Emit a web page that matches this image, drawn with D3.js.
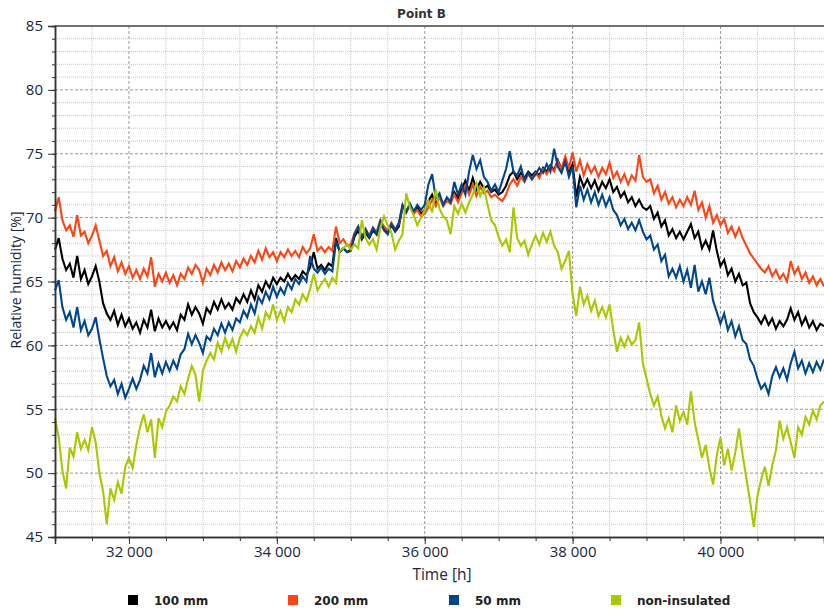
<!DOCTYPE html>
<html>
<head>
<meta charset="utf-8">
<script src="https://cdn.jsdelivr.net/npm/d3@7"></script>
<style>
  html, body { margin: 0; padding: 0; background: #fff; }
  svg { display: block; }
</style>
</head>
<body>
<svg id="chart" width="824" height="612"></svg>
<script>
// Relative humidity at point B, sampled every 50 h from 31 000 h to 41 400 h
const startHour = 31000;
const stepHours = 50;

const rh100mm = [
  67.5, 68.4, 66.8, 65.9, 66.4, 65.3, 67.0, 65.2, 65.9, 64.8,
  65.4, 66.2, 65.0, 63.3, 62.5, 62.0, 62.7, 61.6, 62.4, 61.5,
  62.1, 61.3, 61.8, 61.0, 62.0, 61.4, 62.8, 61.1, 62.1, 61.4,
  61.9, 61.3, 61.8, 61.2, 62.4, 62.0, 63.2, 62.4, 63.0, 62.5,
  61.7, 62.9, 62.5, 63.4, 62.8, 63.6, 62.9, 63.3, 62.8, 63.7,
  63.3, 64.0, 63.4, 64.3, 63.6, 64.7, 64.2, 65.0, 64.5, 65.3,
  64.8, 65.3, 65.0, 65.6, 65.1, 65.5, 65.2, 65.8, 65.5, 66.1,
  67.3, 66.0, 66.3, 65.9, 66.4, 66.2, 68.4, 67.3, 67.6, 67.3,
  67.5, 68.5, 69.0, 68.3, 68.8, 68.4, 69.0, 68.7, 69.5, 69.1,
  68.8, 69.4, 68.9, 69.3, 70.8, 70.5, 71.0, 70.4, 70.8, 70.3,
  70.6, 71.3, 71.8, 71.0, 71.7, 71.0, 71.5, 71.3, 72.0, 71.5,
  72.2, 72.9, 72.1, 73.1, 72.2, 72.8, 72.3, 72.5, 72.0, 72.2,
  71.8, 72.0, 72.5, 73.3, 73.6, 73.0, 73.5, 73.1, 73.6, 73.3,
  73.6, 73.3, 73.9, 73.6, 74.1, 73.7, 74.5, 73.8, 74.6, 73.6,
  74.2, 71.6, 73.2, 72.4, 73.0, 72.3, 72.9, 72.1, 72.8, 72.3,
  73.0, 72.0, 72.4, 71.6, 72.0, 71.2, 71.6, 70.9, 71.4, 70.8,
  70.6, 70.9, 69.9, 70.4, 69.3, 69.8, 68.6, 69.1, 68.4, 68.9,
  68.3, 68.9, 69.5, 68.4, 68.9, 67.6, 68.2, 67.5, 69.0, 67.4,
  66.2, 66.7, 65.5, 66.0, 65.0, 65.6, 64.7, 64.9, 63.3, 62.6,
  62.2, 61.7, 62.3, 61.6, 62.1, 61.3, 61.9, 61.5, 62.0, 62.9,
  62.0, 62.6, 61.6, 62.2, 61.4, 61.9, 61.2, 61.7, 61.5
];

const rh200mm = [
  70.5, 71.6, 69.8, 69.0, 69.4, 68.5, 70.2, 68.6, 68.9, 68.0,
  68.6, 69.4, 68.2, 67.0, 67.4, 66.2, 66.9, 65.8, 66.5, 65.6,
  66.2, 65.3, 65.9, 65.2, 66.0, 65.4, 66.9, 64.6, 65.6, 65.0,
  65.7, 64.9, 65.5, 64.7, 65.6, 65.2, 66.1, 65.6, 66.3, 65.9,
  64.9, 66.0, 65.5, 66.3, 65.7, 66.5, 65.9, 66.4, 65.8, 66.6,
  66.1, 66.8, 66.3, 67.0, 66.5, 67.4, 66.7, 67.6, 66.9, 67.3,
  66.6, 67.3, 66.9, 67.5, 67.0, 67.4, 66.9, 67.7, 67.2, 67.6,
  68.7, 67.4, 67.7, 67.3, 67.7, 67.4, 69.3, 68.0, 68.3, 67.8,
  67.9, 68.8, 69.3, 68.5, 69.1, 68.6, 69.2, 68.9, 69.8, 69.3,
  69.0, 69.6, 69.1, 69.5, 70.9, 70.4, 71.0, 70.3, 70.6, 70.1,
  70.3, 70.8, 71.4, 70.9, 71.6, 70.9, 71.3, 71.1, 71.8, 71.2,
  71.9, 72.5, 71.8, 72.6, 71.7, 72.4, 71.9, 72.1, 71.6, 71.8,
  71.5, 71.3, 71.8, 72.6, 73.0, 72.5, 73.2, 72.8, 73.4, 73.0,
  73.5, 73.1, 73.8, 73.4, 74.0, 73.6, 74.4, 73.8, 74.8, 73.9,
  75.1, 73.6, 74.5, 73.3, 74.2, 73.5, 74.0, 73.2, 73.9, 73.4,
  74.3, 73.1, 73.6, 72.8, 73.4, 72.6, 73.3, 72.9, 74.9, 73.2,
  72.8, 73.0, 71.9, 72.5, 71.4, 72.0, 71.1, 71.6, 70.8, 71.4,
  70.9, 71.6, 71.0, 72.1, 70.6, 71.2, 70.0, 70.9, 69.6, 70.2,
  69.4, 69.9, 68.8, 69.3, 68.5, 69.2, 68.4, 67.8, 67.2, 66.8,
  66.4, 66.0, 65.7, 66.2, 65.4, 65.9, 65.2, 65.6, 65.0, 66.6,
  65.6, 66.1, 65.2, 65.7, 64.9, 65.4, 64.7, 65.2, 64.6
];

const rh50mm = [
  64.3, 65.1, 63.0, 62.0, 62.6, 61.4, 63.0, 61.2, 61.9, 60.8,
  61.3, 62.2, 60.5, 59.0, 57.6, 56.8, 57.3, 56.2, 57.0, 55.9,
  56.6, 57.4, 56.6, 57.3, 58.4, 57.8, 59.4, 57.5, 58.6, 57.8,
  58.7, 58.0, 58.8, 58.2, 59.3, 59.7, 60.9, 60.1, 60.8, 60.2,
  59.4, 60.7, 60.4, 61.3, 60.8, 61.7, 61.0, 61.8, 61.2, 62.1,
  61.8, 62.7, 62.2, 63.2, 62.5, 63.8, 63.3, 64.2, 63.6, 64.6,
  63.8, 64.5, 64.0, 64.9, 64.4, 65.2, 64.8, 65.4, 65.0, 67.0,
  66.0, 65.7, 66.1, 65.6, 66.0, 65.8, 68.1, 67.4, 67.6, 67.3,
  67.4, 68.7, 69.3, 68.4, 69.1, 68.5, 69.2, 68.7, 69.7, 69.0,
  68.7, 69.5, 69.0, 69.6, 71.0, 70.4, 71.1, 70.5, 71.0, 70.6,
  71.0, 72.6, 73.4, 71.5, 71.9, 71.0, 71.6, 71.2, 72.8, 71.8,
  72.6, 71.8, 73.6, 74.9, 73.8, 74.5, 73.2, 72.8, 72.1, 72.6,
  72.0, 72.9, 73.8, 75.2, 73.6, 73.3, 74.0, 72.9, 73.5, 73.0,
  73.4, 73.9, 73.5, 74.2, 73.6, 75.4, 74.0, 73.5, 74.4, 73.2,
  74.0, 70.8, 72.5, 71.4, 72.2, 71.2, 72.0, 71.0, 71.8, 70.9,
  71.6, 70.6, 70.2, 69.4, 69.9, 69.1, 69.6, 69.0, 69.8, 68.9,
  68.3, 68.6, 67.5, 67.9, 66.6, 67.1, 65.4, 66.0, 65.3, 66.2,
  65.0, 65.9, 64.5, 66.3, 64.2, 65.0, 64.0, 65.3, 63.5, 62.6,
  61.7, 62.5, 61.2, 61.9, 60.7, 61.5, 60.4, 60.1, 58.9, 58.4,
  57.4, 56.6, 57.0, 56.2, 57.6, 58.3, 57.5, 58.2, 57.3, 58.6,
  59.5, 58.2, 58.8, 57.8, 58.6, 57.9, 58.7, 58.1, 58.9
];

const rhNonInsulated = [
  54.3, 52.8, 50.2, 48.8, 52.0, 51.3, 53.2, 51.9, 52.6, 51.8,
  53.6, 52.4, 50.0, 48.6, 46.0, 48.8, 47.9, 49.3, 48.4, 50.5,
  51.2, 50.4, 52.2, 53.6, 54.6, 53.2, 54.2, 51.2, 54.3, 53.6,
  54.8, 55.3, 56.0, 55.6, 56.8, 56.2, 57.4, 58.4, 57.7, 55.6,
  58.0, 58.8, 59.4, 58.9, 60.2, 59.5, 60.6, 59.8, 60.5, 59.5,
  60.6, 61.2, 60.8, 61.5, 61.0, 62.2, 61.3, 62.6, 62.1, 63.2,
  62.0, 62.7, 61.9, 63.0, 62.6, 63.6, 63.2, 64.0, 63.5, 64.4,
  65.6, 64.3, 64.8, 65.2, 64.6, 65.3, 64.9, 67.4, 67.6, 67.9,
  67.5, 67.9, 67.6, 69.8, 68.4, 67.9, 68.3, 67.5, 69.2, 70.1,
  69.4, 68.8, 67.5, 68.2, 68.7, 71.9, 70.8, 70.2, 69.4, 70.0,
  70.6, 71.3, 70.4, 72.2, 70.7, 70.1, 69.8, 68.7, 70.9, 70.3,
  71.1, 70.4, 71.2, 71.8, 72.7, 71.7, 72.4, 71.0, 69.8, 69.4,
  68.5, 67.8, 68.3, 67.3, 70.8, 68.4, 67.8, 68.2, 67.1, 67.9,
  68.6, 67.9, 68.8, 68.1, 68.9, 67.8, 67.3, 66.0, 66.6, 67.4,
  64.0, 62.3, 64.6, 63.2, 63.9, 62.7, 63.5, 62.3, 63.0, 62.2,
  63.2, 61.2, 59.5, 60.6, 59.9, 60.7, 60.1, 60.4, 61.8, 58.6,
  57.4, 56.2, 55.3, 56.0, 54.5, 53.5, 54.3, 53.2, 55.3, 54.1,
  54.8, 53.8, 56.4, 54.0, 52.6, 51.2, 52.2, 50.4, 49.1, 51.4,
  52.8, 50.6, 51.9, 50.2, 51.6, 53.5, 51.4, 49.6, 47.8, 45.8,
  48.2, 49.5, 50.5, 49.0, 50.6, 51.8, 54.1, 52.7, 53.6, 52.4,
  51.2, 53.6, 53.0, 54.4, 53.8, 54.9, 54.2, 55.3, 55.6
];

const seriesNames = ["100 mm", "200 mm", "50 mm", "non-insulated"];
const seriesColors = ["#000000", "#ff4414", "#00468c", "#a8c800"];
const seriesValues = [rh100mm, rh200mm, rh50mm, rhNonInsulated];

const yMajorTicks = [45, 50, 55, 60, 65, 70, 75, 80, 85];
const xMajorTicks = [32000, 34000, 36000, 38000, 40000];

const chartTitle = "Point B";
const xTitle = "Time [h]";
const yTitle = "Relative humidity [%]";

// ---------------------------------------------------------------
const svg = d3.select("#chart");
const plot = { left: 55, right: 824, top: 26, bottom: 537 };

const x = d3.scaleLinear().domain([31000, 41400]).range([plot.left, plot.right]);
const y = d3.scaleLinear().domain([45, 85]).range([plot.bottom, plot.top]);

const fmt = d3.formatLocale({ decimal: ".", thousands: " ", grouping: [3], currency: ["", ""] }).format(",");

const xMinor = d3.range(31000, 41401, 500);
const yMinor = d3.range(45, 85.01, 1);
const tickColor = "#1b2640";
const labelFont = "'Open Sans', 'DejaVu Sans', sans-serif";

// grid: dotted minor lines, dashed major lines
const grid = svg.append("g");
grid.selectAll("line.vminor").data(xMinor.filter(d => !xMajorTicks.includes(d) && d > 31000)).join("line")
  .attr("x1", d => x(d)).attr("x2", d => x(d)).attr("y1", plot.top).attr("y2", plot.bottom)
  .attr("stroke", "#c8c8c8").attr("stroke-width", 1).attr("stroke-dasharray", "1,1");
grid.selectAll("line.hminor").data(yMinor.filter(d => !yMajorTicks.includes(d))).join("line")
  .attr("x1", plot.left).attr("x2", plot.right).attr("y1", d => y(d)).attr("y2", d => y(d))
  .attr("stroke", "#c8c8c8").attr("stroke-width", 1).attr("stroke-dasharray", "1,1");
grid.selectAll("line.vmajor").data(xMajorTicks).join("line")
  .attr("x1", d => x(d)).attr("x2", d => x(d)).attr("y1", plot.top).attr("y2", plot.bottom)
  .attr("stroke", "#9a9a9a").attr("stroke-width", 1).attr("stroke-dasharray", "3,2");
grid.selectAll("line.hmajor").data(yMajorTicks.filter(d => d > 45 && d < 85)).join("line")
  .attr("x1", plot.left).attr("x2", plot.right).attr("y1", d => y(d)).attr("y2", d => y(d))
  .attr("stroke", "#9a9a9a").attr("stroke-width", 1).attr("stroke-dasharray", "3,2");

// series lines
const hourOf = i => startHour + i * stepHours;
const line = d3.line().x((d, i) => x(hourOf(i))).y(d => y(d));
svg.append("g").selectAll("path").data(seriesValues).join("path")
  .attr("d", d => line(d))
  .attr("fill", "none")
  .attr("stroke", (d, i) => seriesColors[i])
  .attr("stroke-width", 2.1)
  .attr("stroke-linejoin", "miter");

// top frame line
svg.append("line").attr("x1", plot.left).attr("x2", plot.right).attr("y1", plot.top).attr("y2", plot.top)
  .attr("stroke", "#444").attr("stroke-width", 1.5);

// left axis
const yAxisG = svg.append("g").attr("transform", `translate(${plot.left},0)`);
yAxisG.call(d3.axisLeft(y).tickValues(yMinor).tickSize(3).tickFormat(""));
yAxisG.call(g => g.selectAll(".tick line").attr("stroke", "#333"));
const yAxisMajor = svg.append("g").attr("transform", `translate(${plot.left},0)`)
  .call(d3.axisLeft(y).tickValues(yMajorTicks).tickSize(7).tickPadding(5).tickFormat(d3.format("d")));
yAxisMajor.selectAll(".tick line").attr("stroke", "#333");
yAxisMajor.selectAll(".tick text").attr("fill", tickColor).style("font-family", labelFont).style("font-size", "15px");
svg.selectAll(".domain").attr("stroke", "#333").attr("stroke-width", 1.5);

// bottom axis
const xAxisMinor = svg.append("g").attr("transform", `translate(0,${plot.bottom})`)
  .call(d3.axisBottom(x).tickValues(xMinor).tickSize(4).tickFormat(""));
xAxisMinor.selectAll(".tick line").attr("stroke", "#333");
const xAxisMajor = svg.append("g").attr("transform", `translate(0,${plot.bottom})`)
  .call(d3.axisBottom(x).tickValues(xMajorTicks).tickSize(7).tickPadding(2).tickFormat(fmt));
xAxisMajor.selectAll(".tick line").attr("stroke", "#333");
xAxisMajor.selectAll(".tick text").attr("fill", tickColor).style("font-family", labelFont).style("font-size", "15px");
svg.selectAll(".domain").attr("stroke", "#333").attr("stroke-width", 1.5);

// titles
svg.append("text").attr("x", 421.5).attr("y", 18).attr("text-anchor", "middle")
  .style("font-family", "'DejaVu Sans', sans-serif").style("font-weight", "bold").style("font-size", "12px")
  .attr("fill", "#333").text(chartTitle);
svg.append("text").attr("x", 442).attr("y", 580).attr("text-anchor", "middle")
  .style("font-family", labelFont).style("font-size", "15.5px").attr("fill", tickColor).text(xTitle);
svg.append("text").attr("transform", "translate(21,280) rotate(-90)").attr("text-anchor", "middle")
  .style("font-family", labelFont).style("font-size", "14px").attr("fill", tickColor).text(yTitle);

// legend
const legendX = [128, 288, 449, 611];
const legend = svg.append("g").selectAll("g").data(seriesNames).join("g")
  .attr("transform", (d, i) => `translate(${legendX[i]},595)`);
legend.append("rect").attr("width", 10).attr("height", 10).attr("fill", (d, i) => seriesColors[i]);
legend.append("text").attr("x", 26).attr("y", 9.5)
  .style("font-family", "'DejaVu Sans', sans-serif").style("font-weight", "bold").style("font-size", "12px")
  .attr("fill", "#222").text(d => d);
</script>
</body>
</html>
